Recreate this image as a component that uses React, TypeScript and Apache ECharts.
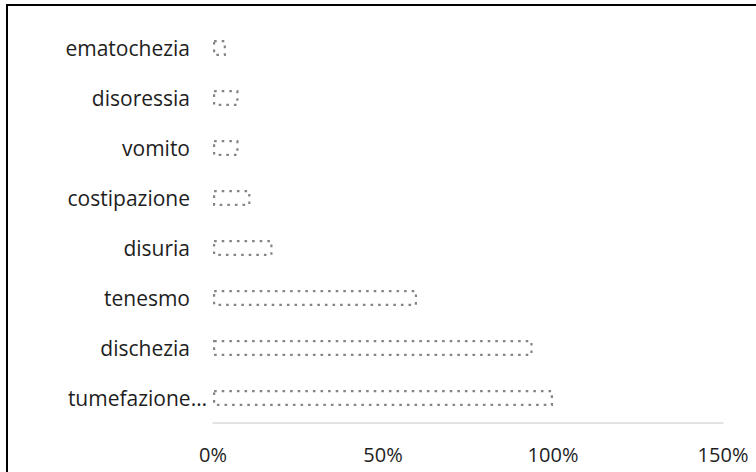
import React, { useEffect, useRef } from "react";
import * as echarts from "echarts";

const categories = ["tumefazione…", "dischezia", "tenesmo", "disuria", "costipazione", "vomito", "disoressia", "ematochezia"];
const values = [100, 94, 60, 17.5, 11, 7.5, 7.5, 3.8];
const xTicks = [0, 50, 100, 150];

const FONT = "Open Sans, Liberation Sans, sans-serif";

export default function App() {
  const ref = useRef<HTMLDivElement>(null);
  useEffect(() => {
    if (!ref.current) return;
    const chart = echarts.init(ref.current, null, { renderer: "svg" });
    chart.setOption({
      animation: false,
      backgroundColor: "#ffffff",
      grid: { left: 213, right: 33, top: 23, bottom: 49, containLabel: false },
      xAxis: {
        type: "value",
        min: xTicks[0],
        max: xTicks[xTicks.length - 1],
        interval: 50,
        axisLine: { show: true, lineStyle: { color: "#d9d9d9", width: 1.5 } },
        axisTick: { show: false },
        splitLine: { show: false },
        axisLabel: {
          formatter: (v: number) => v + "%",
          fontFamily: FONT,
          fontSize: 20,
          color: "#1e1e1e",
          margin: 21,
        },
      },
      yAxis: {
        type: "category",
        data: categories.map((c, i) =>
          i === 0 ? { value: c, textStyle: { padding: [0, 0, 0, 0] } } : c
        ),
        axisLine: { show: false },
        axisTick: { show: false },
        axisLabel: {
          fontFamily: FONT,
          fontSize: 21,
          color: "#1e1e1e",
          margin: 6,
          padding: [0, 17, 0, 0],
        },
      },
      series: [
        {
          type: "bar",
          data: values,
          barWidth: 16,
          itemStyle: {
            color: "rgba(0,0,0,0)",
            borderColor: "#858585",
            borderWidth: 2.2,
            borderType: [2.6, 5],
          },
        },
      ],
    });
    return () => chart.dispose();
  }, []);
  return (
    <div style={{ position: "fixed", left: 0, top: 0, width: 756, height: 472, background: "#fff" }}>
      <div ref={ref} style={{ position: "absolute", left: 0, top: 0, width: 756, height: 472 }} />
      <div style={{ position: "absolute", left: 6, top: 4, width: 800, height: 600, border: "2px solid #000", pointerEvents: "none" }} />
    </div>
  );
}
